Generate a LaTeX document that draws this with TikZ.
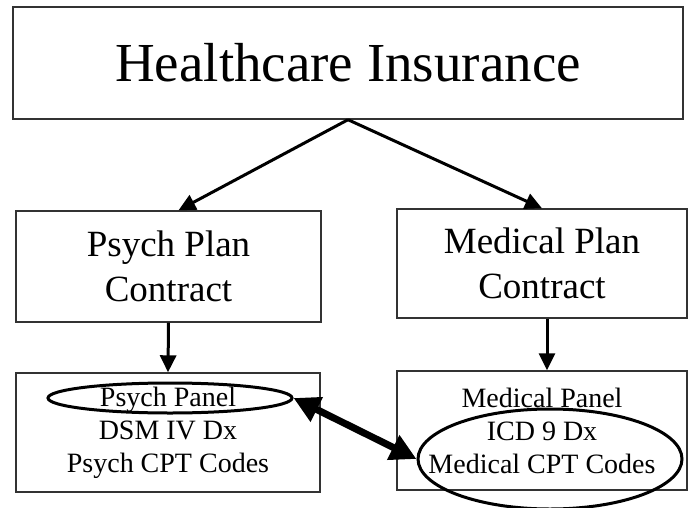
\documentclass[tikz,border=0pt]{standalone}
\usepackage{fontspec}
\setmainfont{Liberation Serif}
\usetikzlibrary{arrows.meta,shapes.geometric}

\begin{document}
\begin{tikzpicture}[x=.5pt,y=-.5pt,
box/.style={rectangle,draw=black!80,line width=.7pt,inner sep=0pt,align=center},
ring/.style={ellipse,draw,line width=1.5pt,inner sep=0pt},
link/.style={line width=1.5pt,-{Triangle[length=8.5pt,width=8pt]}}]
\useasboundingbox (0,0) rectangle (690,508);
\node[box,minimum width=335pt,minimum height=56pt,
  font=\fontsize{27.5}{33}\selectfont] (HI) at (348,63) {Healthcare Insurance};
\node[box,minimum width=152.5pt,minimum height=55.5pt,
  font=\fontsize{18.5}{22.5}\selectfont] (PP) at (168.5,266.5) {Psych Plan\\Contract};
\node[box,minimum width=145pt,minimum height=54.5pt,
  font=\fontsize{18.5}{22.5}\selectfont] (MP) at (542,263.5) {Medical Plan\\Contract};
\node[box,minimum width=152pt,minimum height=59.5pt,
  font=\fontsize{14}{16.5}\selectfont] (PB) at (168,432.5) {Psych Panel\\DSM IV Dx\\Psych CPT Codes};
\node[box,minimum width=145pt,minimum height=59.5pt,
  font=\fontsize{14}{16.5}\selectfont] (MB) at (542,430.5) {Medical Panel\\ICD 9 Dx\\Medical CPT Codes};
\node[ring,minimum width=122pt,minimum height=15pt] (RP) at (170,398) {};
\node[ring,minimum width=132pt,minimum height=50pt] (RM) at (550,459) {};
\draw[link] (HI.south) -- ([xshift=5pt]PP.north);
\draw[link] (HI.south) -- (MP.north);
\draw[link] (PP.south) -- (PB.north);
\draw[link] ([xshift=2.5pt]MP.south) -- ([xshift=2.5pt]MB.north);
\draw[line width=3.5pt,{Triangle[length=13pt,width=13pt]}-{Triangle[length=13pt,width=13pt]}] (RP.east) -- (RM.west);
\end{tikzpicture}
\end{document}
